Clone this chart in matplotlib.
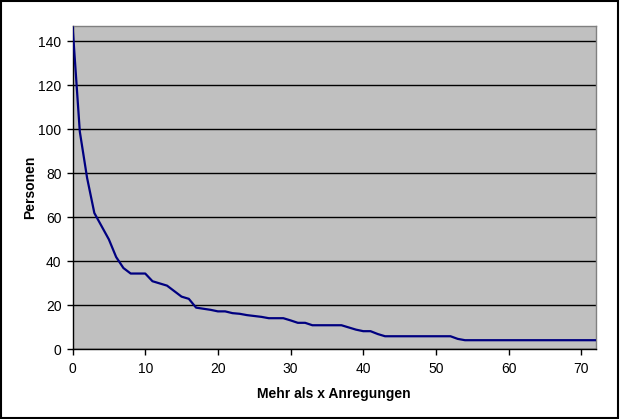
import matplotlib
matplotlib.use('Agg')
import matplotlib.pyplot as plt
from matplotlib.patches import Rectangle

plt.rcParams['font.family'] = ['Liberation Sans', 'DejaVu Sans']

# Mehr als x Anregungen -> Anzahl Personen
x_werte = list(range(0, 73))
personen = [147, 99, 78, 62, 56, 50, 42, 37, 34.5, 34.5,
            34.5, 31, 30, 29, 26.5, 24, 23, 19, 18.5, 18,
            17.3, 17.3, 16.5, 16.2, 15.6, 15.2, 14.8, 14.2, 14.2, 14.2,
            13.2, 12.1, 12.1, 11, 11, 11, 11, 11, 10, 9,
            8.3, 8.3, 7, 6, 6, 6, 6, 6, 6, 6,
            6, 6, 6, 4.8, 4.2, 4.2, 4.2, 4.2, 4.2, 4.2,
            4.2, 4.2, 4.2, 4.2, 4.2, 4.2, 4.2, 4.2, 4.2, 4.2,
            4.2, 4.2, 4.2]
y_ticks = [0, 20, 40, 60, 80, 100, 120, 140]
x_ticks = [0, 10, 20, 30, 40, 50, 60, 70]

fig = plt.figure(figsize=(6.2, 4.19), dpi=100)
fig.patch.set_facecolor('white')
ax = fig.add_axes([0.117, 0.166, 0.844, 0.772])
ax.set_facecolor('#c0c0c0')

ax.plot(x_werte, personen, color='#000080', linewidth=1.6, zorder=3)

ax.set_xlim(0, 72)
ax.set_ylim(0, 147)
ax.set_xticks(x_ticks)
ax.set_yticks(y_ticks)
ax.yaxis.grid(True, color='black', linewidth=1)
ax.set_axisbelow(True)

for side in ['top', 'right']:
    ax.spines[side].set_color('#808080')
    ax.spines[side].set_linewidth(1)
for side in ['left', 'bottom']:
    ax.spines[side].set_color('black')
    ax.spines[side].set_linewidth(1)

ax.tick_params(axis='both', direction='out', length=4, width=1, labelsize=10, colors='black')
ax.tick_params(axis='y', pad=4)
ax.tick_params(axis='x', pad=5)

ax.set_xlabel('Mehr als x Anregungen', fontsize=10, fontweight='bold', labelpad=8)
ax.set_ylabel('Personen', fontsize=10, fontweight='bold', labelpad=1)

# Rahmen um das Diagramm
fig.patches.append(Rectangle((0.002, 0.003), 0.995, 0.994, transform=fig.transFigure,
                             fill=False, edgecolor='black', linewidth=1.5))

fig.savefig('out.png', dpi=100)
